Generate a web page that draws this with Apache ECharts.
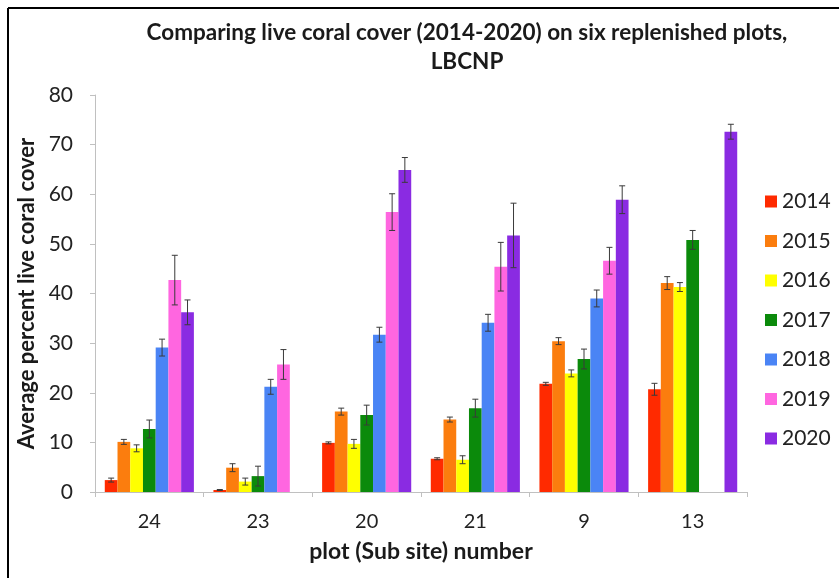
<!DOCTYPE html>
<html>
<head>
<meta charset="utf-8">
<script src="https://cdn.jsdelivr.net/npm/echarts@6/dist/echarts.min.js"></script>
<style>
html,body{margin:0;padding:0;background:#fff;}
#chart{width:839px;height:578px;}
</style>
</head>
<body>
<div id="chart"></div>
<script>
var categories = ['24', '23', '20', '21', '9', '13'];
var years = ['2014', '2015', '2016', '2017', '2018', '2019', '2020'];
var yTicks = [0, 80, 10];

var v2014 = [2.4, 0.4, 9.9, 6.7, 21.8, 20.7];
var e2014 = [0.4, 0.1, 0.2, 0.2, 0.3, 1.2];
var v2015 = [10.1, 4.9, 16.2, 14.6, 30.4, 42.1];
var e2015 = [0.5, 0.8, 0.7, 0.5, 0.7, 1.3];
var v2016 = [8.8, 2.1, 9.7, 6.5, 23.9, 41.3];
var e2016 = [0.7, 0.7, 0.9, 0.8, 0.7, 0.9];
var v2017 = [12.7, 3.2, 15.5, 16.9, 26.8, 50.8];
var e2017 = [1.8, 2.0, 2.0, 1.8, 2.0, 1.9];
var v2018 = [29.1, 21.2, 31.7, 34.1, 39.0, null];
var e2018 = [1.7, 1.5, 1.5, 1.7, 1.7, null];
var v2019 = [42.7, 25.7, 56.4, 45.4, 46.6, null];
var e2019 = [5.0, 3.0, 3.7, 4.9, 2.7, null];
var v2020 = [36.2, null, 64.9, 51.7, 58.9, 72.6];
var e2020 = [2.5, null, 2.5, 6.5, 2.8, 1.5];

var values = [v2014, v2015, v2016, v2017, v2018, v2019, v2020];
var errors = [e2014, e2015, e2016, e2017, e2018, e2019, e2020];
var colors = ['#ff2a00', '#fb7d0e', '#ffff00', '#0b8a0b', '#4a84f5', '#ff66e0', '#8a2be2'];

var FONT = 'Lato';
var CAT_GAP = 0.18;

var series = [];
years.forEach(function (y, k) {
  series.push({
    name: y,
    type: 'bar',
    data: values[k],
    barGap: '0%',
    barCategoryGap: (CAT_GAP * 100) + '%',
    itemStyle: { color: colors[k] },
    z: 2
  });
});
years.forEach(function (y, k) {
  var d = [];
  values[k].forEach(function (v, i) {
    if (v !== null && errors[k][i] !== null) d.push([i, v, errors[k][i]]);
  });
  series.push({
    type: 'custom',
    name: 'err' + y,
    data: d,
    z: 5,
    silent: true,
    encode: { x: 0, y: 1 },
    renderItem: function (params, api) {
      var ci = api.value(0), v = api.value(1), e = api.value(2);
      var c = api.coord([ci, v]);
      var band = api.size([1, 0])[0];
      var bw = band * (1 - CAT_GAP) / years.length;
      var x = c[0] + (k - (years.length - 1) / 2) * bw;
      var yHi = api.coord([ci, v + e])[1];
      var yLo = api.coord([ci, Math.max(0, v - e)])[1];
      var cap = 3;
      var st = { stroke: '#3a3a3a', lineWidth: 1 };
      return {
        type: 'group',
        children: [
          { type: 'line', shape: { x1: x, y1: yHi, x2: x, y2: yLo }, style: st },
          { type: 'line', shape: { x1: x - cap, y1: yHi, x2: x + cap, y2: yHi }, style: st },
          { type: 'line', shape: { x1: x - cap, y1: yLo, x2: x + cap, y2: yLo }, style: st }
        ]
      };
    }
  });
});

var chart = echarts.init(document.getElementById('chart'));
chart.setOption({
  animation: false,
  backgroundColor: '#ffffff',
  title: {
    text: 'Comparing live coral cover (2014-2020) on six replenished plots,\nLBCNP',
    left: 462,
    top: 13,
    textAlign: 'center',
    textStyle: { fontFamily: FONT, fontSize: 22.5, fontWeight: 'bold', color: '#1a1a1a', lineHeight: 29 }
  },
  legend: {
    orient: 'vertical',
    left: 760,
    top: 186,
    data: years,
    icon: 'rect',
    itemWidth: 12,
    itemHeight: 12,
    itemGap: 18.5,
    textStyle: { fontFamily: FONT, fontSize: 21, color: '#222', lineHeight: 21, padding: [0, 0, 0, 0] }
  },
  grid: { left: 95, right: 92, top: 95, bottom: 86, containLabel: false },
  xAxis: {
    type: 'category',
    data: categories,
    name: 'plot (Sub site) number',
    nameLocation: 'middle',
    nameGap: 48,
    nameTextStyle: { fontFamily: FONT, fontSize: 23, fontWeight: 'bold', color: '#1a1a1a' },
    axisLine: { lineStyle: { color: '#c0c0c0', width: 1 } },
    axisTick: { show: true, length: 5, lineStyle: { color: '#c0c0c0' } },
    axisLabel: { fontFamily: FONT, fontSize: 20, color: '#222', margin: 20 }
  },
  yAxis: {
    type: 'value',
    min: yTicks[0],
    max: yTicks[1],
    interval: yTicks[2],
    name: 'Average percent live coral cover',
    nameLocation: 'middle',
    nameGap: 54,
    nameTextStyle: { fontFamily: FONT, fontSize: 22, fontWeight: 'bold', color: '#1a1a1a' },
    axisLine: { show: true, lineStyle: { color: '#c0c0c0', width: 1 } },
    axisTick: { show: true, length: 5, lineStyle: { color: '#c0c0c0' } },
    splitLine: { show: false },
    axisLabel: { fontFamily: FONT, fontSize: 21, color: '#222', margin: 22 }
  },
  graphic: [
    { type: 'line', shape: { x1: 8, y1: 8, x2: 839, y2: 8 }, style: { stroke: '#000', lineWidth: 2 } },
    { type: 'line', shape: { x1: 8, y1: 8, x2: 8, y2: 578 }, style: { stroke: '#000', lineWidth: 2 } }
  ],
  series: series
});
</script>
</body>
</html>
